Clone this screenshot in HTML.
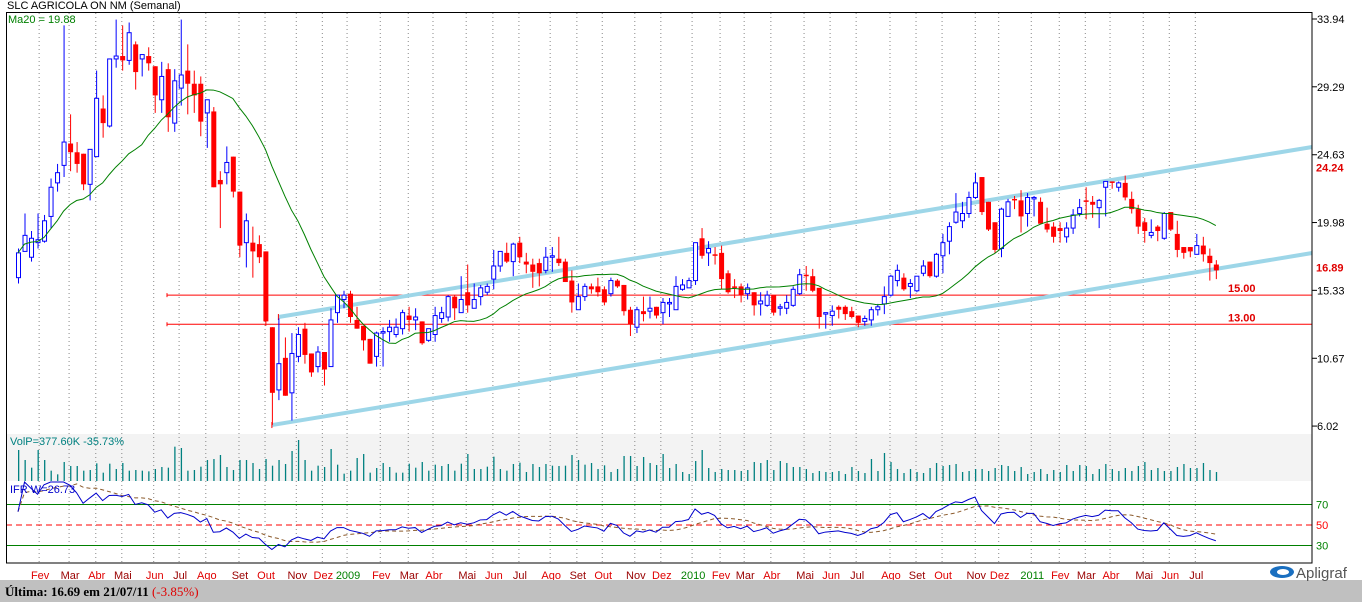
<!DOCTYPE html>
<html><head><meta charset="utf-8"><style>
html,body{margin:0;padding:0;background:#fff;}
svg{display:block;font-family:"Liberation Sans",sans-serif;}
</style></head><body>
<svg id="chart" width="1362" height="602" viewBox="0 0 1362 602" xmlns="http://www.w3.org/2000/svg">
<rect x="0" y="0" width="1362" height="602" fill="#fff"/>
<text x="7" y="9" font-size="11" fill="#000">SLC AGRICOLA ON NM (Semanal)</text>
<rect x="6" y="434" width="1306" height="47" fill="#f3f3f3"/>
<g id="grid"></g><g id="vol"></g><g id="rsiLevels"></g><g id="price"></g><g id="rsi"></g>
<rect x="6.5" y="12.5" width="1305.5" height="550.5" fill="none" stroke="#000" stroke-width="1"/>
<g id="axis"></g><g id="months"></g>
<text x="8" y="23" font-size="11" fill="#008000">Ma20 = 19.88</text>
<text x="10" y="445" font-size="11" fill="#008080">VolP=377.60K  -35.73%</text>
<text x="10" y="493" font-size="11" fill="#0000cc">IFR W=26.73</text>
<rect x="0" y="580" width="1362" height="22" fill="#c0c0c0"/>
<text x="5" y="596" font-family="'Liberation Serif',serif" font-weight="bold" font-size="13" fill="#000">Última: 16.69 em 21/07/11 <tspan fill="#e00000" font-weight="normal">(-3.85%)</tspan></text>
<g>
<ellipse cx="1282" cy="572" rx="12" ry="6" fill="#1a6fc0"/><ellipse cx="1283" cy="572" rx="6" ry="3" fill="#fff"/>
<text x="1296" y="578" font-size="15" fill="#555">Apligraf</text></g>
</svg>
<script>
const opens=[16.2,18.0,17.6,18.6,18.7,20.4,22.7,23.9,25.4,24.8,24.7,22.6,24.5,27.8,26.6,31.2,31.4,31.1,32.2,31.2,31.4,30.7,28.4,30.5,26.8,29.2,30.4,29.5,29.5,27.5,27.6,22.9,23.4,24.5,22.1,18.6,18.6,18.5,18.0,12.8,8.5,10.7,8.3,10.8,12.7,11.0,10.1,11.1,10.1,13.8,14.7,15.1,
13.3,12.9,12.0,10.8,12.4,12.5,12.3,12.7,13.6,13.3,13.2,11.9,12.3,13.4,13.5,14.9,13.8,15.2,14.1,14.9,15.2,16.1,17.0,17.9,17.3,18.6,17.3,17.1,17.2,16.7,17.6,17.5,17.3,16.0,14.0,14.9,15.6,15.6,15.4,15.1,16.0,15.7,14.0,12.8,13.9,13.9,14.2,13.8,14.4,14.0,15.4,15.5,16.0,
18.9,17.9,17.8,17.9,16.5,15.6,15.6,15.1,15.2,14.4,14.3,15.0,14.1,14.1,14.3,15.1,16.4,16.3,15.5,13.7,13.6,14.2,14.2,13.9,13.6,13.2,13.3,14.0,14.4,15.0,16.0,16.2,15.6,15.3,16.5,17.3,16.3,17.7,18.7,20.0,20.1,20.6,21.7,23.1,21.4,20.0,18.2,20.4,21.6,21.5,20.6,21.6,21.4,19.9,
19.7,19.6,19.0,19.6,20.6,21.5,21.4,21.0,22.4,22.8,22.4,22.7,21.6,20.9,20.0,19.1,19.7,18.9,20.7,19.2,18.3,18.3,17.8,18.4,17.7,17.1];
const highs=[18.2,20.6,19.4,20.6,20.5,23.0,24.0,33.5,27.4,25.5,24.7,25.0,30.4,28.7,31.2,33.9,33.5,33.7,32.4,31.5,32.0,30.7,31.0,30.9,30.5,33.9,32.2,30.4,30.0,28.4,27.9,23.5,25.2,24.5,22.1,20.6,19.7,19.1,18.0,12.8,13.4,12.1,12.4,12.8,13.1,11.0,11.5,11.1,14.1,15.0,15.3,15.3,
14.2,12.9,12.0,12.5,12.8,13.3,13.4,14.0,14.2,14.1,13.2,12.7,14.2,14.2,15.0,15.0,16.3,17.1,15.8,15.7,15.8,18.1,18.0,18.6,18.6,19.0,17.9,17.5,17.5,18.3,18.3,19.0,17.5,16.7,15.8,15.8,15.8,16.2,15.6,16.2,16.1,15.7,14.2,14.2,14.9,14.9,14.2,14.8,14.8,16.3,16.1,16.2,18.6,
19.6,18.7,18.3,18.4,16.7,16.1,15.8,15.8,15.2,15.2,15.3,15.0,14.4,15.0,15.6,16.8,17.0,16.8,15.5,13.8,14.3,14.3,14.3,14.2,13.6,13.6,14.2,14.4,15.6,16.4,17.1,16.5,16.1,16.3,17.4,17.3,17.9,19.2,20.0,22.0,21.4,22.1,23.4,23.1,21.4,20.0,21.0,21.6,21.8,22.2,22.0,21.8,21.7,21.0,
20.0,20.0,20.0,20.9,21.6,22.4,21.8,21.6,22.8,22.8,22.8,23.2,22.1,21.2,20.3,20.2,19.8,20.7,20.7,20.1,18.3,18.3,19.2,19.0,18.2,17.4];
const lows=[15.8,18.0,17.3,18.2,18.6,19.6,22.1,23.1,23.5,23.4,22.2,21.5,24.5,25.8,26.5,30.6,30.4,30.8,29.1,30.0,30.4,27.5,27.5,26.2,26.2,28.0,27.4,27.5,25.9,25.1,22.4,19.6,22.6,21.7,17.6,16.9,16.2,17.2,12.9,6.1,7.8,8.1,6.4,10.4,10.3,9.4,9.7,8.8,10.1,13.1,14.1,13.1,
12.7,11.2,10.3,10.1,10.1,11.8,12.1,12.3,12.5,12.6,11.6,11.8,11.8,13.1,13.2,13.3,13.8,13.8,14.1,14.3,15.0,15.4,16.6,17.2,16.3,17.2,16.5,15.5,15.6,16.5,16.6,17.0,15.9,13.8,14.0,14.6,15.1,14.9,14.3,14.9,15.5,13.6,12.2,12.4,13.2,13.4,13.4,13.0,13.5,14.0,15.3,15.5,15.7,
17.5,17.0,17.1,15.4,15.1,14.8,14.5,14.7,13.6,13.6,14.2,13.6,13.6,13.7,14.2,15.0,15.3,15.2,12.7,12.7,12.9,13.4,13.3,13.4,12.8,12.9,12.9,13.6,13.7,14.9,15.6,15.3,14.8,15.2,16.3,16.2,16.2,16.5,17.8,19.9,19.6,20.3,21.6,20.5,19.4,17.9,17.6,20.4,20.9,19.3,19.7,20.4,19.9,19.3,
18.6,18.6,18.6,19.2,20.4,20.2,20.3,19.6,20.4,22.3,22.1,21.5,20.6,19.2,18.6,18.9,18.7,18.8,19.4,17.6,17.5,17.6,17.8,17.3,16.0,16.1];
const closes=[17.9,19.1,18.9,18.8,20.1,22.4,23.4,25.5,24.8,24.0,22.6,25.0,28.5,26.8,31.2,31.4,31.1,33.0,30.3,31.5,30.9,28.7,30.0,27.2,29.7,30.1,29.5,28.7,26.9,28.4,22.4,22.6,24.1,22.1,18.4,20.1,18.0,17.6,13.2,8.3,10.3,8.1,11.0,12.3,10.9,9.7,11.1,9.9,13.3,15.0,15.0,13.5,
12.7,11.9,10.3,12.4,12.5,12.8,12.8,13.8,13.3,13.5,11.7,12.7,13.6,13.8,14.9,14.1,14.7,14.3,14.7,15.5,15.6,17.0,18.0,17.3,18.5,17.6,17.1,16.6,16.5,17.6,17.7,17.2,15.9,14.5,14.9,15.6,15.4,15.2,14.5,16.0,15.6,13.9,13.0,14.0,13.7,14.1,13.6,14.5,14.5,15.6,15.7,16.0,18.6,
17.7,18.2,17.7,16.1,15.2,15.5,15.0,15.5,14.3,14.6,15.0,13.8,14.2,14.5,15.4,16.4,16.3,15.3,13.5,13.8,13.9,14.0,13.7,13.5,13.1,13.4,14.0,14.2,14.9,16.3,16.7,15.4,15.8,16.3,17.0,16.3,17.8,18.6,19.7,20.7,20.6,21.7,22.7,20.7,19.5,18.1,20.9,21.4,21.5,20.4,21.7,21.7,19.9,19.5,
19.0,19.4,19.6,20.5,21.0,21.4,21.2,21.5,22.8,22.7,22.7,21.7,20.9,19.7,19.4,19.3,19.4,20.6,19.5,18.1,17.9,18.0,18.4,17.8,17.2,16.7];
const volumes=[1302,882,560,1302,882,434,280,798,630,630,434,462,742,350,728,504,756,434,462,434,406,504,588,560,1442,1386,434,462,602,882,924,1092,588,462,882,882,756,504,924,644,882,714,1260,1722,882,434,644,588,1344,686,308,434,966,1134,350,546,756,588,350,350,728,560,798,434,686,630,714,434,728,1134,504,504,602,1022,504,434,714,770,378,714,588,714,644,630,644,1092,882,686,756,504,658,378,504,
1050,1050,630,1008,756,672,1134,546,714,378,294,840,1302,546,378,504,462,462,420,462,798,756,882,462,840,756,588,588,504,336,420,378,378,420,294,588,420,336,924,420,1176,798,504,336,504,378,336,546,756,630,672,714,378,420,504,504,420,546,672,630,420,588,294,378,504,294,462,378,672,420,672,630,294,504,714,504,420,546,420,630,798,462,546,420,420,588,714,546,546,756,462,378];
const priceTicks=[33.94,29.29,24.63,19.98,15.33,10.67,6.02];
const monthLabels=["Fev","Mar","Abr","Mai","Jun","Jul","Ago","Set","Out","Nov","Dez","2009","Fev","Mar","Abr","Mai","Jun","Jul","Ago","Set","Out","Nov","Dez","2010","Fev","Mar","Abr","Mai","Jun","Jul","Ago","Set","Out","Nov","Dez","2011","Fev","Mar","Abr","Mai","Jun","Jul"];
const monthPos=[3.4,8.0,12.1,16.1,21.0,24.9,29.0,34.1,38.1,42.9,46.9,50.7,55.8,60.1,63.9,69.0,73.1,77.1,81.9,86.0,89.9,94.9,98.9,103.7,108.0,111.7,115.8,120.9,124.9,128.9,134.1,138.1,142.1,147.2,150.8,155.8,160.1,164.1,167.9,173.0,177.0,181.0];
const hLevels=[15.00,13.00];
const upperChannel=[[40,13.5],[198.8,25.16]];
const lowerChannel=[[39,6.09],[198.8,17.89]];
const rsiLevels=[70,50,30];

const NS="http://www.w3.org/2000/svg";
const X=i=>18+i*6.51;
const Y=p=>19+(33.94-p)*14.58;
const RY=v=>525-(v-50)*1.025;
const VY=v=>481-v/42;
function mk(parent,tag,attrs){const e=document.createElementNS(NS,tag);for(const k in attrs)e.setAttribute(k,attrs[k]);document.getElementById(parent).appendChild(e);return e;}

monthPos.forEach((m,k)=>{
  const g=mk('grid','line',{x1:X(m)-1,x2:X(m)-1,y1:13,y2:563,stroke:'#888','stroke-dasharray':'1,3','stroke-width':1});
  
  
  const col=monthLabels[k].length===4?'#008000':(k%2===0?'#e00000':'#990000');
  const t=mk('months','text',{x:X(m),y:579,'font-size':11,fill:col,'text-anchor':'middle'});
  t.textContent=monthLabels[k];
  
  
});
priceTicks.forEach(p=>{
  const l=mk('axis','line',{x1:1312,x2:1317,y1:Y(p),y2:Y(p),stroke:'#000'});
  
  
  const t=mk('axis','text',{x:1317,y:Y(p)+4,'font-size':11,fill:'#000'});
  t.textContent=p.toFixed(2);
  
  
});
[[24.24,7],[16.89,0]].forEach(a=>{
  const t=mk('axis','text',{x:1316,y:Y(a[0])+4+a[1],'font-size':11,'font-weight':'bold',fill:'#e00000'});
  t.textContent=a[0].toFixed(2);
  
  
});
hLevels.forEach(h=>{
  const l=mk('price','line',{x1:167,x2:1312,y1:Y(h),y2:Y(h),stroke:'#ff0000','stroke-width':1});
  
  
  mk('price','line',{x1:167,x2:167,y1:Y(h)-2,y2:Y(h)+2,stroke:'#ff0000'});
  const t=mk('price','text',{x:1228,y:Y(h)-3,'font-size':11,'font-weight':'bold',fill:'#e00000'});
  t.textContent=h.toFixed(2);
  
  
});
[upperChannel,lowerChannel].forEach(c=>{
  const l=mk('price','line',{x1:X(c[0][0]),y1:Y(c[0][1]),x2:X(c[1][0]),y2:Y(c[1][1]),stroke:'#9dd6e8','stroke-width':4});
  
  
  mk('price','line',{x1:X(c[0][0]),x2:X(c[0][0]),y1:Y(c[0][1])-3,y2:Y(c[0][1])+3,stroke:'#ff0000'});
});
closes.forEach((c,i)=>{
  const o=opens[i],x=X(i),up=c>=o,col=up?'#0000ff':'#ff0000';
  const w=mk('price','line',{x1:x+0.5,x2:x+0.5,y1:Y(highs[i]),y2:Y(lows[i]),stroke:col,'stroke-width':1});
  
  
  const top=Y(Math.max(o,c)),bot=Y(Math.min(o,c));
  const b=mk('price','rect',up?{x:x-1.5,y:top,width:4,height:Math.max(1,bot-top),fill:'#fff',stroke:col,'stroke-width':1}:{x:x-2,y:top,width:5,height:Math.max(1.5,bot-top),fill:col});
  
  
});
let pts=[];
closes.forEach((c,i)=>{const s=closes.slice(Math.max(0,i-19),i+1);pts.push(X(i)+','+Y(s.reduce((a,b)=>a+b,0)/s.length));});
const ma=mk('price','polyline',{points:pts.join(' '),fill:'none',stroke:'#008000','stroke-width':1});


volumes.forEach((v,i)=>{
  const r=mk('vol','rect',{x:X(i),y:VY(v),width:1.3,height:481-VY(v),fill:'#008080'});
  
  
});
rsiLevels.forEach(v=>{
  const c=v===50?'#ff0000':'#008000';
  const l=mk('rsiLevels','line',{x1:6,x2:1312,y1:RY(v),y2:RY(v),stroke:c,'stroke-width':1,'stroke-dasharray':v===50?'6,4':'none'});
  
  
  const t=mk('axis','text',{x:1316,y:RY(v)+4,'font-size':11,fill:c});
  t.textContent=v;
  
  
});
let ag=0,al=0,rsi=[];
for(let i=0;i<closes.length;i++){
  if(i===0){rsi.push(63);continue;}
  const ch=closes[i]-closes[i-1],g=Math.max(ch,0),l=Math.max(-ch,0);
  if(i<=14){ag=(ag*(i-1)+g)/i;al=(al*(i-1)+l)/i;}else{ag=(ag*13+g)/14;al=(al*13+l)/14;}
  rsi.push(al===0?100:100-100/(1+ag/al));
}
const rp=rsi.map((v,i)=>X(i)+','+Math.max(482,Math.min(562,RY(v)))).join(' ');
const rma=rsi.map((v,i)=>{const s=rsi.slice(Math.max(0,i-8),i+1);return X(i)+','+Math.max(482,Math.min(562,RY(s.reduce((a,b)=>a+b,0)/s.length)));}).join(' ');
const rl2=mk('rsi','polyline',{points:rma,fill:'none',stroke:'#8b5a2b','stroke-width':1,'stroke-dasharray':'4,3'});


const rl=mk('rsi','polyline',{points:rp,fill:'none',stroke:'#0000cc','stroke-width':1});


</script>
</body></html>
